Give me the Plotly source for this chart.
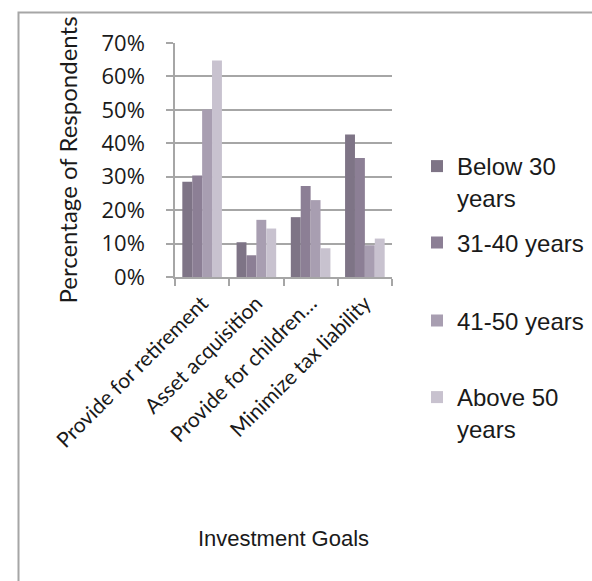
import plotly.graph_objects as go

# Survey results: share of respondents per investment goal, by age band
goals = ["Provide for retirement", "Asset acquisition",
         "Provide for children\u2026", "Minimize tax liability"]
age_groups = ["Below 30<br>years", "31-40 years", "41-50 years", "Above 50<br>years"]

below_30 = [0.285, 0.104, 0.179, 0.426]
age_31_40 = [0.304, 0.065, 0.272, 0.356]
age_41_50 = [0.501, 0.171, 0.230, 0.095]
above_50 = [0.648, 0.145, 0.086, 0.115]

series = [below_30, age_31_40, age_41_50, above_50]
colors = ["#7e7486", "#8c7f95", "#a89eb1", "#c8c2cf"]
legend_ids = ["legend", "legend2", "legend3", "legend4"]

W, H = 592, 581
ML, MR, MT, MB = 175, 200, 43, 304

fig = go.Figure()
for name, vals, col, lg in zip(age_groups, series, colors, legend_ids):
    fig.add_trace(go.Bar(
        x=goals, y=vals, name=name, legend=lg,
        marker=dict(color=col, line=dict(width=0)),
    ))

pw = W - ML - MR
ph = H - MT - MB


def px_x(v):
    return (v - ML) / pw


def px_y(v):
    return (H - MB - v) / ph


legend_font = dict(family="Liberation Sans, Arial", size=24, color="#1a1a1a")
legend_common = dict(font=legend_font, xanchor="left", yanchor="middle",
                     valign="top", bgcolor="rgba(0,0,0,0)", itemwidth=30,
                     tracegroupgap=0)

fig.update_layout(
    width=W, height=H,
    margin=dict(l=ML, r=MR, t=MT, b=MB, pad=0, autoexpand=False),
    paper_bgcolor="white", plot_bgcolor="white",
    barmode="group", bargap=0.27, bargroupgap=0,
    showlegend=True,
    legend=dict(x=px_x(417), y=px_y(182), **legend_common),
    legend2=dict(x=px_x(417), y=px_y(243), **legend_common),
    legend3=dict(x=px_x(417), y=px_y(321), **legend_common),
    legend4=dict(x=px_x(417), y=px_y(413), **legend_common),
    xaxis=dict(
        type="category",
        showline=True, linecolor="#a6a6a6", linewidth=1.5,
        showgrid=False,
        ticks="outside", tickson="boundaries", ticklen=7,
        tickcolor="#a6a6a6", tickwidth=1.5,
        tickangle=-45,
        tickfont=dict(family="Lato", size=21, color="#1a1a1a"),
        ticklabelstandoff=4,
        title=dict(text="Investment Goals",
                   font=dict(family="Liberation Sans, Arial", size=22, color="#1a1a1a"),
                   standoff=80),
        automargin=False,
    ),
    yaxis=dict(
        range=[0, 0.7], tickvals=[0, 0.1, 0.2, 0.3, 0.4, 0.5, 0.6, 0.7],
        tickformat=".0%",
        showline=True, linecolor="#a6a6a6", linewidth=1.5,
        showgrid=True, gridcolor="#a6a6a6", gridwidth=1.5,
        zeroline=False,
        ticks="outside", ticklen=7, tickcolor="#a6a6a6", tickwidth=1.5,
        tickfont=dict(family="Open Sans", size=22, color="#1a1a1a"),
        ticklabelstandoff=17,
        title=dict(text="Percentage of Respondents",
                   font=dict(family="Lato", size=24, color="#1a1a1a"),
                   standoff=17),
        automargin=False,
    ),
    shapes=[dict(
        type="rect", xref="paper", yref="paper",
        x0=px_x(18.5), x1=px_x(610), y0=px_y(600), y1=px_y(12.5),
        line=dict(color="#a6a6a6", width=2), fillcolor="rgba(0,0,0,0)",
        layer="below",
    )],
)

fig.write_html("out.html")
